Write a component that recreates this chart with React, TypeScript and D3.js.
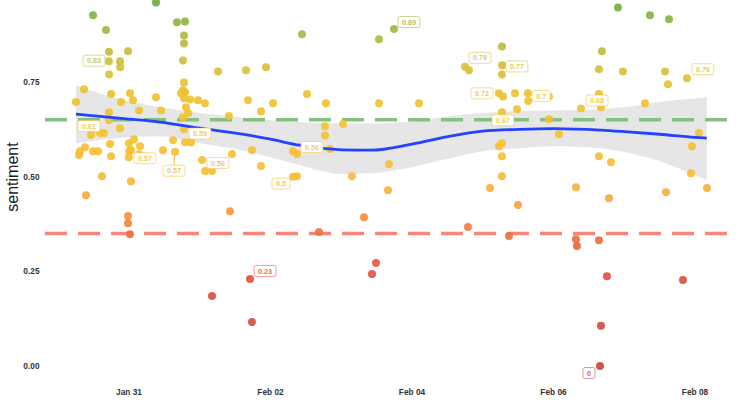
import React from "react";
import * as d3 from "d3";

const W = 744;
const H = 400;

// tweets: [time (2020), sentiment]
const tweets: [string, number][] = [
  ["01-30 11:47", 0.926], ["01-30 16:12", 0.887], ["01-30 17:13", 0.83], ["01-30 17:10", 0.805],
  ["01-30 20:57", 0.805], ["01-30 21:00", 0.789], ["01-30 23:40", 0.831], ["01-30 17:15", 0.77],
  ["01-30 08:44", 0.731], ["01-30 06:00", 0.697], ["01-30 17:54", 0.718], ["01-31 00:20", 0.72],
  ["01-31 01:21", 0.702], ["01-30 21:17", 0.697], ["01-31 09:10", 0.71], ["01-31 03:24", 0.675],
  ["01-30 17:13", 0.67], ["01-30 17:13", 0.649], ["01-30 20:57", 0.628], ["01-30 11:07", 0.61],
  ["01-30 14:10", 0.615], ["01-30 15:31", 0.615], ["01-30 17:33", 0.586], ["01-30 09:05", 0.578],
  ["01-30 07:23", 0.567], ["01-30 07:02", 0.557], ["01-30 11:47", 0.567], ["01-30 13:29", 0.567],
  ["01-30 17:54", 0.554], ["01-31 00:00", 0.588], ["01-31 01:42", 0.599], ["01-31 03:44", 0.58],
  ["01-31 00:05", 0.567], ["01-31 00:41", 0.57], ["01-30 23:55", 0.551], ["01-31 03:24", 0.559],
  ["01-30 14:50", 0.501], ["01-31 00:41", 0.488], ["01-30 09:25", 0.451], ["01-30 23:40", 0.396],
  ["01-30 23:40", 0.377], ["01-31 00:20", 0.348], ["01-31 09:10", 0.96], ["01-31 16:17", 0.908],
  ["01-31 19:00", 0.91], ["01-31 18:39", 0.873], ["01-31 18:39", 0.852], ["01-31 18:19", 0.807],
  ["02-01 06:11", 0.778], ["02-01 15:41", 0.781], ["01-31 18:39", 0.749], ["01-31 18:19", 0.728],
  ["01-31 17:38", 0.72], ["01-31 19:00", 0.723], ["01-31 18:39", 0.707], ["01-31 20:41", 0.704],
  ["01-31 23:24", 0.702], ["02-01 01:47", 0.694], ["01-31 10:51", 0.675], ["01-31 19:20", 0.683],
  ["01-31 20:01", 0.668], ["01-31 18:19", 0.657], ["02-01 09:55", 0.66], ["02-01 16:22", 0.702],
  ["01-31 18:39", 0.625], ["01-31 14:55", 0.596], ["01-31 19:00", 0.591], ["01-31 21:02", 0.59],
  ["01-31 11:32", 0.57], ["01-31 15:36", 0.566], ["02-01 00:46", 0.544], ["02-01 01:47", 0.515],
  ["02-01 04:09", 0.515], ["02-01 10:56", 0.56], ["02-01 04:09", 0.185], ["02-01 10:16", 0.409],
  ["02-01 17:03", 0.23], ["02-01 17:43", 0.116], ["02-01 22:28", 0.789], ["02-02 00:51", 0.694],
  ["02-01 20:46", 0.673], ["02-02 10:41", 0.876], ["02-02 12:23", 0.718], ["02-02 18:49", 0.694],
  ["02-02 18:29", 0.633], ["02-03 00:35", 0.639], ["02-02 18:29", 0.609], ["02-02 20:11", 0.573],
  ["02-01 17:43", 0.57], ["02-02 07:38", 0.567], ["02-02 08:59", 0.56], ["02-01 20:46", 0.528],
  ["02-02 07:38", 0.5], ["02-02 08:59", 0.501], ["02-03 03:38", 0.501], ["02-02 16:27", 0.354],
  ["02-03 07:43", 0.393], ["02-03 12:48", 0.863], ["02-03 17:53", 0.89], ["02-03 12:48", 0.694],
  ["02-04 02:22", 0.694], ["02-03 16:11", 0.533], ["02-03 15:51", 0.464], ["02-03 11:47", 0.272],
  ["02-03 10:26", 0.243], ["02-04 18:59", 0.367], ["02-04 17:58", 0.79], ["02-04 19:20", 0.781],
  ["02-05 02:27", 0.47], ["02-05 06:31", 0.844], ["02-05 06:35", 0.794], ["02-05 06:30", 0.77],
  ["02-05 05:30", 0.72], ["02-05 06:52", 0.712], ["02-05 10:56", 0.72], ["02-05 15:20", 0.72],
  ["02-05 15:25", 0.7], ["02-05 11:37", 0.678], ["02-05 22:28", 0.712], ["02-05 22:28", 0.652],
  ["02-06 01:51", 0.612], ["02-05 06:31", 0.67], ["02-05 06:31", 0.588], ["02-05 05:30", 0.58],
  ["02-05 06:31", 0.554], ["02-05 06:31", 0.501], ["02-05 11:57", 0.425], ["02-05 08:54", 0.343],
  ["02-06 07:37", 0.472], ["02-06 09:19", 0.68], ["02-06 15:25", 0.718], ["02-06 16:06", 0.683],
  ["02-06 15:25", 0.784], ["02-06 16:26", 0.831], ["02-06 15:25", 0.554], ["02-06 19:30", 0.538],
  ["02-06 18:49", 0.443], ["02-06 21:52", 0.947], ["02-06 23:34", 0.778], ["02-07 07:02", 0.694],
  ["02-07 08:43", 0.926], ["02-07 13:49", 0.778], ["02-07 14:50", 0.744], ["02-07 15:10", 0.916],
  ["02-07 21:16", 0.76], ["02-08 01:20", 0.615], ["02-07 22:58", 0.58], ["02-07 22:38", 0.509],
  ["02-08 04:04", 0.47], ["02-07 14:09", 0.459], ["02-06 07:37", 0.335], ["02-06 07:58", 0.317],
  ["02-06 15:25", 0.332], ["02-06 18:08", 0.237], ["02-06 16:06", 0.106], ["02-06 15:46", 0.0],
  ["02-07 19:55", 0.227],
];

// labelled tweets
const labelled: [string, number][] = [
  ["01-30 17:13", 0.83], ["01-30 11:07", 0.61], ["01-31 00:41", 0.57], ["01-31 15:36", 0.566],
  ["01-31 21:02", 0.59], ["02-01 10:56", 0.56], ["02-02 08:59", 0.56], ["02-02 07:38", 0.5],
  ["02-01 17:03", 0.23], ["02-03 17:53", 0.89], ["02-04 17:58", 0.79], ["02-05 06:30", 0.77],
  ["02-05 05:30", 0.72], ["02-05 15:25", 0.7], ["02-05 06:31", 0.67], ["02-06 09:19", 0.68],
  ["02-07 21:16", 0.76], ["02-06 15:46", 0],
];
// repel offsets in px (dx, dy, draw segment)
const labelNudges: [number, number, boolean][] = [
  [-15, 9, false], [-2, -9, false], [14, 8, false], [-1, 19, true], [9, -9, false], [-14, 9, false],
  [15, -7, false], [-12, 7, false], [15, -8, false], [15, -7, false], [15, -9, false], [15, -8, false],
  [-17, 0, false], [13, -5, false], [1, 8, false], [16, -8, false], [16, -9, false], [-11, 7, false],
];

// loess smooth
const smoothTimes = [
  "01-30 06:00", "01-31 00:00", "01-31 10:30", "02-01 00:00", "02-01 17:00", "02-02 00:00",
  "02-02 10:00", "02-03 00:00", "02-03 10:00", "02-04 00:00", "02-04 13:00", "02-05 00:00",
  "02-05 12:30", "02-06 00:00", "02-06 16:00", "02-07 00:00", "02-07 12:00", "02-08 00:00", "02-08 04:00",
];
const smoothFit = [0.665, 0.652, 0.644, 0.628, 0.609, 0.599, 0.583, 0.571, 0.57, 0.586, 0.607, 0.62, 0.625, 0.627, 0.623, 0.619, 0.612, 0.604, 0.602];
const smoothHi = [0.741, 0.699, 0.683, 0.668, 0.654, 0.649, 0.644, 0.641, 0.641, 0.646, 0.66, 0.668, 0.673, 0.675, 0.678, 0.683, 0.697, 0.707, 0.71];
const smoothLo = [0.588, 0.604, 0.607, 0.588, 0.565, 0.551, 0.53, 0.507, 0.509, 0.525, 0.549, 0.567, 0.575, 0.58, 0.575, 0.565, 0.541, 0.504, 0.491];

const thresholds = [
  { value: 0.65, color: "#84c07f" },
  { value: 0.35, color: "#f4877b" },
];
const xTicks = ["01-31 00:00", "02-02 00:00", "02-04 00:00", "02-06 00:00", "02-08 00:00"];
const yTicks = [0, 0.25, 0.5, 0.75];

const parse = d3.timeParse("%Y-%m-%d %H:%M");
const t = (s: string) => parse("2020-" + s) as Date;

const FONT = "'Liberation Sans', Arial, Helvetica, sans-serif";

const textW = (s: string, fs: number) =>
  s.split("").reduce((a, c) => a + (c === "." ? 0.278 : 0.556) * fs, 0);

export default function App() {
  const x = d3.scaleTime().domain([t("01-31 00:00"), t("02-08 00:00")]).range([129, 695]);
  const y = d3.scaleLinear().domain([0, 0.75]).range([366, 82]);
  const panelX: [number, number] = [45, 728];

  const color = d3
    .scaleLinear<string>()
    .domain([0, 0.12, 0.25, 0.35, 0.42, 0.5, 0.62, 0.74, 0.82, 0.88, 0.96])
    .range(["#c64438", "#d44b3e", "#e64d3e", "#f0703a", "#f69f3e", "#f8ba36", "#f5c22c", "#e9c12e", "#c9bd3a", "#a5b840", "#6aab3c"])
    .interpolate(d3.interpolateRgb)
    .clamp(true);

  const smooth = smoothTimes.map((s, i) => ({ d: t(s), f: smoothFit[i], lo: smoothLo[i], hi: smoothHi[i] }));
  const area = d3
    .area<any>()
    .x((d) => x(d.d))
    .y0((d) => y(d.lo))
    .y1((d) => y(d.hi))
    .curve(d3.curveMonotoneX);
  const line = d3
    .line<any>()
    .x((d) => x(d.d))
    .y((d) => y(d.f))
    .curve(d3.curveMonotoneX);

  const fmtX = d3.timeFormat("%b %d");
  const fmtY = d3.format(".2f");
  const fsL = 7.2;

  return (
    <div style={{ position: "absolute", left: 0, top: 0 }}>
      <svg width={W} height={H} style={{ display: "block", background: "#fff" }} fontFamily={FONT}>
        <path d={area(smooth) || ""} fill="#e6e6e6" />
        {thresholds.map((th, i) => (
          <line
            key={i}
            x1={panelX[0]}
            x2={panelX[1]}
            y1={y(th.value)}
            y2={y(th.value)}
            stroke={th.color}
            strokeWidth={3.5}
            strokeDasharray="22 11"
          />
        ))}
        {tweets.map(([s, v], i) => (
          <circle key={i} cx={x(t(s))} cy={y(v)} r={4} fill={color(v)} fillOpacity={0.9} />
        ))}
        <path d={line(smooth) || ""} fill="none" stroke="#2343ff" strokeWidth={2.8} />
        {labelled.map(([s, v], i) => {
          const [dx, dy, seg] = labelNudges[i];
          const px = x(t(s));
          const py = y(v);
          const txt = String(Math.round(v * 100) / 100);
          const w = textW(txt, fsL) + 8;
          const h = 11;
          const cx = px + dx;
          const cy = py + dy;
          const c = color(v);
          return (
            <g key={i}>
              {seg && (
                <line x1={px} y1={py} x2={cx} y2={cy - h / 2} stroke={c} strokeWidth={1} />
              )}
              <rect
                x={cx - w / 2}
                y={cy - h / 2}
                width={w}
                height={h}
                rx={2}
                fill="#fff"
                stroke={c}
                strokeOpacity={0.55}
                strokeWidth={1}
              />
              <text
                x={cx}
                y={cy + 2.6}
                textAnchor="middle"
                fontSize={fsL}
                fontWeight="bold"
                fill={c}
                fillOpacity={0.85}
              >
                {txt}
              </text>
            </g>
          );
        })}
        {yTicks.map((v) => (
          <text key={v} x={39.5} y={y(v) + 3} textAnchor="end" fontSize={8.3} fontWeight="bold" fill="#333">
            {fmtY(v)}
          </text>
        ))}
        {xTicks.map((s) => (
          <text key={s} x={x(t(s))} y={395} textAnchor="middle" fontSize={8.3} fontWeight="bold" fill="#333">
            {fmtX(t(s))}
          </text>
        ))}
        <text
          transform={`translate(18,177) rotate(-90)`}
          textAnchor="middle"
          fontSize={16}
          fill="#1a1a1a"
        >
          sentiment
        </text>
      </svg>
    </div>
  );
}
